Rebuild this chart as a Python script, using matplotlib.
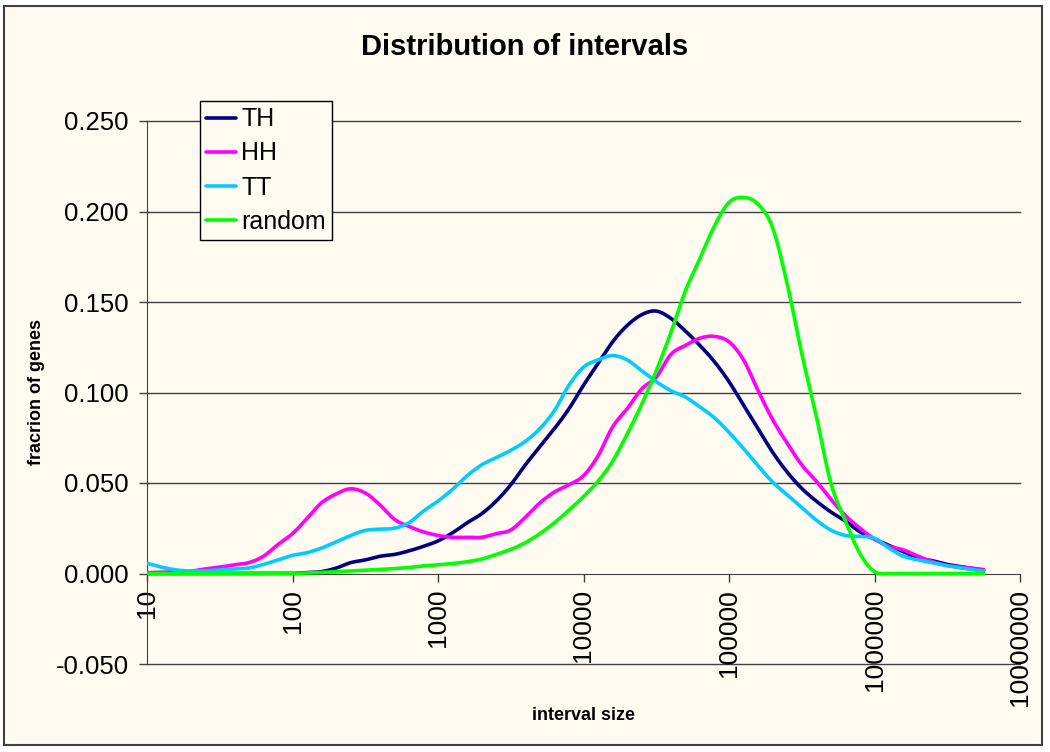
import numpy as np
import matplotlib
matplotlib.use("Agg")
import matplotlib.pyplot as plt
from matplotlib.patches import Rectangle
from matplotlib.ticker import FixedLocator, FixedFormatter, NullLocator

plt.rcParams['font.family'] = ['Liberation Sans', 'DejaVu Sans']

# ---- data -------------------------------------------------------------
interval_size = [10, 12.6, 15.8, 20, 25.1, 31.6, 39.8, 50.1, 63.1, 79.4,
                 100, 126, 158, 200, 251, 316, 398, 501, 631, 794,
                 1000, 1259, 1585, 1995, 2512, 3162, 3981, 5012, 6310, 7943,
                 10000, 12589, 15849, 19953, 25119, 31623, 39811, 50119, 63096, 79433,
                 100000, 125893, 158489, 199526, 251189, 316228, 398107, 501187, 630957, 794328,
                 1000000, 1258925, 1584893, 1995262, 2511886, 3162278, 3981072, 5011872, 5623413]

TH = [0, 0, 0, 0, 0, 0, 0, 0, 0, 0,
      0, 0.0005, 0.001, 0.003, 0.006, 0.0075, 0.0095, 0.0105, 0.0125, 0.015,
      0.018, 0.0225, 0.028, 0.033, 0.040, 0.049, 0.060, 0.070, 0.080, 0.091,
      0.104, 0.116, 0.128, 0.137, 0.143, 0.145, 0.141, 0.134, 0.126, 0.117,
      0.106, 0.093, 0.080, 0.067, 0.056, 0.047, 0.040, 0.034, 0.029, 0.023,
      0.019, 0.0155, 0.012, 0.0085, 0.007, 0.005, 0.0037, 0.0025, 0.0017]

HH = [0.0005, 0.0007, 0.001, 0.0013, 0.0025, 0.0035, 0.0048, 0.006, 0.0095, 0.016,
      0.022, 0.0305, 0.039, 0.044, 0.0468, 0.0445, 0.038, 0.030, 0.026, 0.023,
      0.021, 0.020, 0.020, 0.020, 0.022, 0.024, 0.031, 0.039, 0.045, 0.049,
      0.054, 0.065, 0.081, 0.091, 0.102, 0.1085, 0.121, 0.126, 0.130, 0.131,
      0.128, 0.118, 0.101, 0.085, 0.072, 0.060, 0.051, 0.041, 0.032, 0.025,
      0.019, 0.015, 0.013, 0.0095, 0.0065, 0.0044, 0.0035, 0.0027, 0.0022]

TT = [0.0055, 0.0035, 0.002, 0.0013, 0.0015, 0.002, 0.0025, 0.003, 0.005, 0.0075,
      0.010, 0.0115, 0.014, 0.0175, 0.021, 0.0238, 0.0245, 0.025, 0.028, 0.0345,
      0.040, 0.0465, 0.054, 0.060, 0.064, 0.068, 0.073, 0.080, 0.090, 0.104,
      0.114, 0.118, 0.1204, 0.118, 0.112, 0.106, 0.101, 0.0975, 0.092, 0.086,
      0.078, 0.069, 0.0595, 0.0505, 0.0435, 0.0365, 0.0295, 0.024, 0.021, 0.0205,
      0.0195, 0.014, 0.0095, 0.0075, 0.006, 0.0043, 0.003, 0.0018, 0.0013]

random_ = [0, 0, 0, 0, 0, 0, 0, 0, 0, 0,
           0, 0.0003, 0.0006, 0.001, 0.0014, 0.0018, 0.0022, 0.0027, 0.0033, 0.0042,
           0.0048, 0.0055, 0.0065, 0.008, 0.0105, 0.0133, 0.017, 0.022, 0.028, 0.035,
           0.0425, 0.051, 0.062, 0.077, 0.0935, 0.112, 0.133, 0.156, 0.174, 0.192,
           0.205, 0.2078, 0.204, 0.191, 0.160, 0.1215, 0.087, 0.050, 0.029, 0.011,
           0.001, 0, 0, 0, 0, 0, 0, 0, 0]

series_names = ['TH', 'HH', 'TT', 'random']
series_colors = ['#000080', '#FF00FF', '#00CCFF', '#00FF00']
y_ticks = [-0.05, 0.0, 0.05, 0.10, 0.15, 0.20, 0.25]
x_ticks = [10, 100, 1000, 10000, 100000, 1000000, 10000000]
x_tick_labels = ['10', '100', '1000', '10000', '100000', '1000000', '10000000']

# ---- smoothing like Excel's smoothed lines (Catmull-Rom in log-x space) ----
def smooth(xs, ys, n=12):
    lx = np.log10(np.asarray(xs, float))
    y = np.asarray(ys, float)
    px = np.concatenate([[2 * lx[0] - lx[1]], lx, [2 * lx[-1] - lx[-2]]])
    py = np.concatenate([[y[0]], y, [y[-1]]])
    outx, outy = [], []
    t = np.linspace(0, 1, n, endpoint=False)
    for i in range(1, len(px) - 2):
        p0x, p1x, p2x, p3x = px[i - 1:i + 3]
        p0y, p1y, p2y, p3y = py[i - 1:i + 3]
        for (a0, a1, a2, a3, out) in ((p0x, p1x, p2x, p3x, outx), (p0y, p1y, p2y, p3y, outy)):
            out.extend(0.5 * ((2 * a1) + (-a0 + a2) * t + (2 * a0 - 5 * a1 + 4 * a2 - a3) * t ** 2
                              + (-a0 + 3 * a1 - 3 * a2 + a3) * t ** 3))
    outx.append(lx[-1]); outy.append(y[-1])
    return 10 ** np.array(outx), np.array(outy)

# ---- figure -------------------------------------------------------------
W, H = 1050, 752
cream = '#FFFBF0'
fig = plt.figure(figsize=(W / 100, H / 100), dpi=100, facecolor='white')
bg = Rectangle((4 / W, 1 - 745 / H), (1042 - 4) / W, (745 - 6) / H,
               transform=fig.transFigure, facecolor=cream,
               edgecolor='#404040', linewidth=1.5, zorder=-10)
fig.patches.append(bg)

ax = fig.add_axes([147 / W, 1 - 664 / H, (1020 - 147) / W, (664 - 121) / H])
ax.set_zorder(5)
ax.set_facecolor('none')
ax.set_xscale('log')
ax.set_xlim(10, 1e7)
ax.set_ylim(-0.05, 0.25)

for yv in y_ticks:
    if yv != 0:
        ax.axhline(yv, color='#404040', linewidth=1.0, zorder=1, clip_on=False)

for name, vals, col in zip(series_names, [TH, HH, TT, random_], series_colors):
    sx, sy = smooth(interval_size, vals)
    ax.plot(sx, sy, color=col, linewidth=2.6, label=name, zorder=3,
            solid_joinstyle='round', solid_capstyle='round')

for s in ['top', 'right']:
    ax.spines[s].set_visible(False)
ax.spines['bottom'].set_position(('data', 0))
ax.spines['bottom'].set_color('#404040')
ax.spines['bottom'].set_zorder(2)
ax.spines['left'].set_color('#404040')

ax.xaxis.set_major_locator(FixedLocator(x_ticks))
ax.xaxis.set_major_formatter(FixedFormatter(x_tick_labels))
ax.xaxis.set_minor_locator(NullLocator())
ax.yaxis.set_major_locator(FixedLocator(y_ticks))
ax.set_yticklabels([f'{v:.3f}' for v in y_ticks])

ax.tick_params(axis='x', direction='out', length=6, width=1, color='#404040',
               labelsize=19, pad=5, labelrotation=90)
ax.tick_params(axis='y', direction='out', length=6, width=1, color='#404040',
               labelsize=18.5, pad=7)
for lab in ax.get_xticklabels():
    lab.set_verticalalignment('top')
    lab.set_horizontalalignment('center')

leg = ax.legend(loc='upper left', bbox_to_anchor=(200 / W, 1 - 101 / H),
                bbox_transform=fig.transFigure, borderaxespad=0, fontsize=18,
                frameon=True, fancybox=False, framealpha=1, facecolor=cream,
                edgecolor='black', handlelength=1.2, handletextpad=0.2,
                labelspacing=0.41, borderpad=0.25)
leg.get_frame().set_linewidth(1.0)
for lh in leg.get_lines():
    lh.set_linewidth(2.6)

fig.text(525 / W, 1 - 47 / H, 'Distribution of intervals', ha='center', va='center',
         fontsize=21, fontweight='bold')
fig.text(584 / W, 1 - 716 / H, 'interval size', ha='center', va='center',
         fontsize=13, fontweight='bold')
fig.text(37 / W, 1 - 392 / H, 'fracrion of genes', ha='center', va='center',
         rotation=90, fontsize=13, fontweight='bold')

fig.savefig('out.png', dpi=100, facecolor='white')
